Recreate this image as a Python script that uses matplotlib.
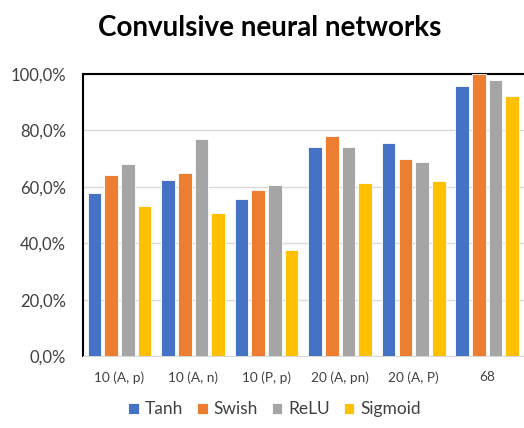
import matplotlib.pyplot as plt
import numpy as np
from matplotlib.ticker import FuncFormatter

# accuracy per network configuration and activation function
categories = ["10 (A, p)", "10 (A, n)", "10 (P, p)", "20 (A, pn)", "20 (A, P)", "68"]
tanh = [57.9, 62.4, 55.6, 74.3, 75.4, 95.7]
swish = [64.1, 64.9, 58.8, 78.1, 69.9, 100.0]
relu = [68.0, 77.0, 60.5, 74.3, 68.9, 97.8]
sigmoid = [53.3, 50.8, 37.5, 61.2, 62.2, 92.3]

series = [("Tanh", tanh, "#4472C4"), ("Swish", swish, "#ED7D31"),
          ("ReLU", relu, "#A5A5A5"), ("Sigmoid", sigmoid, "#FFC000")]

plt.rcParams['font.family'] = ['Lato', 'DejaVu Sans']

fig = plt.figure(figsize=(5.24, 4.28), dpi=100)
ax = fig.add_axes([0.158, 0.168, 0.842, 0.659])

x = np.arange(len(categories))
step = 0.227
width = 0.185
for i, (name, vals, color) in enumerate(series):
    ax.bar(x + (i - 1.5) * step, vals, width, color=color, label=name,
           edgecolor='white', linewidth=0.6, zorder=3)

ax.set_xlim(-0.5, len(categories) - 0.5)
ax.set_ylim(0, 100)
ax.set_yticks(np.arange(0, 101, 20))
ax.yaxis.set_major_formatter(FuncFormatter(lambda v, p: f"{v:.1f}%".replace('.', ',')))
ax.set_xticks(x)
ax.set_xticklabels(categories, fontsize=9.8, color='#404040')
ax.tick_params(axis='y', labelsize=12, colors='#404040', length=0, pad=12)
ax.tick_params(axis='x', length=0, pad=11)
ax.grid(axis='y', color='#D9D9D9', linewidth=1, zorder=0)

ax.spines['right'].set_visible(False)
ax.spines['left'].set_color('black')
ax.spines['left'].set_linewidth(1.5)
ax.spines['top'].set_color('black')
ax.spines['top'].set_linewidth(1.5)
ax.spines['bottom'].set_color('#D9D9D9')

fig.text(0.515, 0.935, "Convulsive neural networks", ha='center', va='center',
         fontsize=20, fontweight='bold')

ax.legend(loc='upper center', bbox_to_anchor=(0.435, -0.105), ncol=4, frameon=False,
          fontsize=12.5, handlelength=0.6, handleheight=0.6, columnspacing=0.8,
          handletextpad=0.35, labelcolor='#404040')

fig.savefig('out.png', dpi=100)
